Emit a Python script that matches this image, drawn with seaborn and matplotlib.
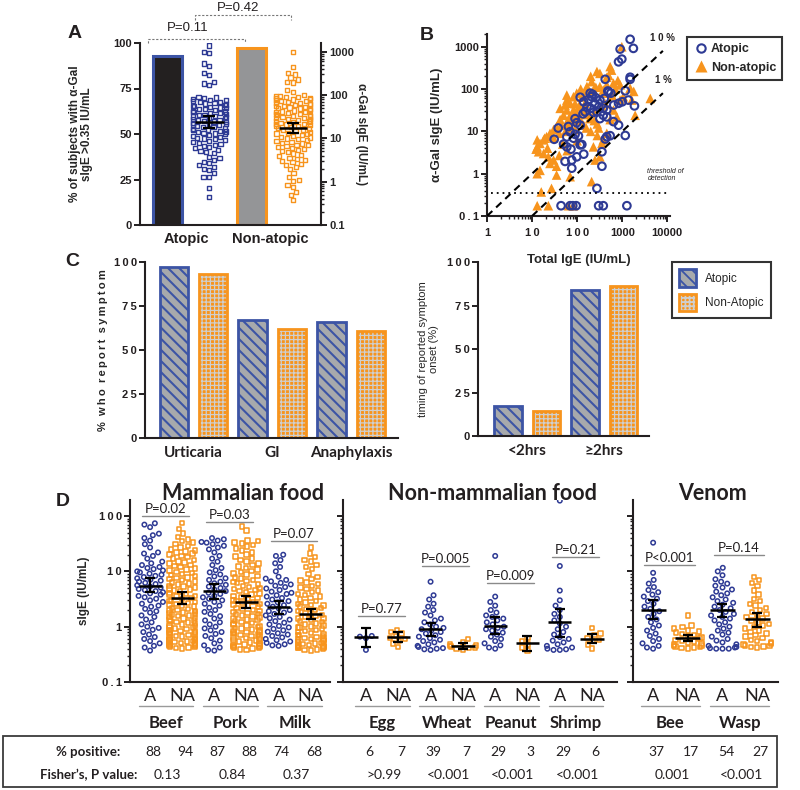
import warnings
import numpy as np
import pandas as pd
import matplotlib
matplotlib.use('Agg')
import matplotlib.pyplot as plt
import matplotlib.transforms as mtransforms
from matplotlib.patches import Rectangle, Patch
from matplotlib.lines import Line2D
from matplotlib.ticker import LogLocator, NullFormatter
import seaborn as sns

warnings.filterwarnings('ignore')

# ---------------- datos ----------------
# Panel A
groups_A = ['Atopic', 'Non-atopic']
pct_positive_A = [93, 97]
sige_atopic_A = [1400, 1000, 920, 540, 480, 320, 295, 200, 185, 170,
                 92, 88, 86, 81, 78, 76, 73, 70, 68, 66, 64, 61, 59, 57, 55, 54, 52, 50, 48, 47, 45, 43, 42, 40,
                 39, 38, 36, 35, 34, 33, 32, 31, 30, 29, 28, 27, 26, 25, 24.5, 24, 23, 22, 21.5, 21, 20, 19,
                 18.5, 18, 17, 16.5, 16, 15.5, 15, 14.5, 14, 13.4, 13, 12.4, 12, 11.5, 11, 10.4, 10, 9.6, 9.1,
                 8.7, 8.3, 7.9, 7.5, 7.1, 6.7, 6.3, 5.9, 5.5, 5.2, 4.9, 4.6, 3.8, 3.5, 3.2, 2.9, 2.65, 2.4,
                 2.2, 2.0, 1.86, 1.56, 1.3, 1.3, 0.7, 0.45]
sige_nonatopic_A = [1000, 450, 330, 300, 255, 230, 200, 195, 130, 120,
                    100, 97, 94, 91, 89, 86, 84, 81, 79, 76, 74, 72, 69, 67, 65, 63, 61, 59, 57, 56, 54, 52,
                    50, 49, 47, 46, 44, 42, 41, 40, 38, 37, 36, 35, 34, 33, 32, 31, 30, 29, 28, 27.5, 27, 26,
                    25, 24.5, 24, 23, 22, 21.5, 21, 20, 19.5, 19, 18, 17.5, 17, 16, 15.5, 15, 14, 13.5, 13,
                    12.5, 12, 11.5, 11, 10.5, 10, 9.6, 9.2, 8.8, 8.4, 8, 7.6, 7.2, 6.9, 6.6, 6.3, 6, 5.7, 5.4,
                    5.1, 4.8, 4.5, 4.2, 3.9, 3.6, 3.4, 3.2, 3, 2.8, 2.6, 2.4, 2.2, 2, 1.56, 1.3, 1.1, 1.05,
                    0.84, 0.77, 0.59, 0.5, 0.38]
gmean_A = [24, 17.4]
sem_lo_A = [17, 13]
sem_hi_A = [33, 23]
pvals_A = ['P=0.11', 'P=0.42']

# Panel B (IgE total, sIgE alfa-Gal)
total_atopic_B = [1500, 1770, 900, 980, 830, 1500, 1500, 420, 1170, 1870, 830, 1370, 117, 195, 210, 180,
                  320, 300, 380, 455, 275, 140, 165, 150, 135, 380, 455, 320, 640, 830, 1170, 455, 540, 420,
                  90, 98, 117, 38, 31, 64, 70, 90, 59, 83, 107, 50, 59, 73, 117, 127, 140, 98, 76, 54, 355,
                  355, 76, 275, 44, 70, 80, 95, 300, 380, 1270, 250, 200, 230, 500, 480, 560, 400, 650,
                  1000, 220, 260]
sige_atopic_B = [1500, 915, 880, 510, 440, 190, 170, 170, 91, 40, 46, 55, 64, 80, 66, 57,
                 55, 38, 35, 32, 29, 50, 38, 29, 26, 24, 22, 20, 17, 14, 8, 7.5, 7.9, 6.6,
                 20, 16, 14, 12, 6.5, 13, 9.8, 8.5, 7.4, 6.9, 7.8, 5, 4.3, 3.8, 4.8, 4.9, 2.9, 2.5, 2.1,
                 1.95, 3.3, 1.5, 1.35, 0.45, 0.175, 0.175, 0.175, 0.175, 0.175, 0.175, 0.175, 45, 35, 28,
                 85, 90, 80, 60, 42, 50, 75, 62]
total_nonatopic_B = [980, 275, 540, 580, 210, 320, 455, 640, 900, 1500, 1800, 1630, 1940, 4200, 150, 117,
                     83, 59, 50, 70, 98, 42, 59, 35, 30, 25, 21, 18, 15, 13, 14, 18, 23, 30, 25, 35, 15,
                     13, 35, 70, 210, 27, 16, 13, 23, 64, 83, 13, 19, 12.3, 230, 355, 380, 455, 320, 250,
                     640, 760, 540, 900, 1060, 320, 455, 380, 230, 165, 127, 98, 59, 70, 54, 42, 83, 59,
                     110, 130, 160, 190, 240, 280, 300, 200, 160, 120, 100, 80, 65, 45, 40, 55, 75, 90, 140,
                     250, 350, 420, 600, 700, 800, 500, 200, 260, 180, 150, 400, 120, 90, 30, 22, 48, 60,
                     100, 280, 40]
sige_nonatopic_B = [1000, 260, 340, 280, 150, 115, 125, 138, 125, 105, 88, 55, 24, 60, 46, 38,
                    32, 32, 24, 22, 27, 19, 15, 13, 11, 9, 7.5, 6.3, 5.2, 4.3, 3.3, 3.0, 2.5, 2.1, 1.75, 1.5,
                    1.2, 1.0, 0.93, 0.85, 0.65, 0.45, 0.37, 0.175, 0.175, 0.175, 0.175, 6.3, 6.9, 3.8, 4.3,
                    5.2, 6.3, 9, 2.5, 2.1, 32, 22, 19, 55, 66, 235, 190, 95, 95, 115, 65, 80, 55, 46, 42, 35,
                    66, 72, 40, 30, 25, 20, 18, 15, 12, 10, 12, 18, 22, 18, 20, 14, 9, 10, 12, 11, 14,
                    30, 40, 45, 70, 100, 160, 210, 200, 110, 90, 75, 80, 100, 45, 7, 4, 5, 3.5,
                    6, 8, 2.7]
ratio_lines_B = [0.1, 0.01]
ratio_labels_B = ['1 0 %', '1 %']
threshold_B = 0.35

# Panel C
symptoms_C = ['Urticaria', 'GI', 'Anaphylaxis']
symptom_atopic_C = [97, 67, 66]
symptom_nonatopic_C = [93, 62, 61]
timing_C = ['<2hrs', '≥2hrs']
timing_atopic_C = [17, 84]
timing_nonatopic_C = [14.5, 86]

# Panel D - alimentos de mamíferos
mamm_foods = ['Beef', 'Pork', 'Milk']
beef_A = [74, 70, 63, 48, 45, 40, 36, 31, 27, 22, 21, 19, 17, 15, 14, 13, 12, 11.5, 11, 10.4, 10, 9.6, 9.1,
          8.7, 8.3, 7.9, 7.5, 7.1, 6.8, 6.5, 6.2, 5.9, 5.6, 5.3, 5.1, 4.8, 4.6, 4.4, 4.2, 4.0, 3.8, 3.6,
          3.4, 3.2, 3.0, 2.8, 2.6, 2.4, 2.3, 2.1, 1.9, 1.8, 1.6, 1.5, 1.35, 1.2, 1.1, 1.0, 0.95, 0.88,
          0.8, 0.72, 0.65, 0.6, 0.55, 0.5, 0.45, 0.42, 0.37]
beef_NA = [75, 58, 48, 42, 38, 35, 33, 31, 29, 27, 25, 24, 23, 22, 21, 20, 19, 18, 17, 16, 15.2, 14.5,
           13.8, 13.1, 12.5, 11.9, 11.3, 10.8, 10.3, 9.8, 9.4, 9.0, 8.6, 8.2, 7.8, 7.5, 7.2, 6.9, 6.6,
           6.3, 6.0, 5.8, 5.5, 5.3, 5.1, 4.9, 4.7, 4.5, 4.3, 4.1, 3.9, 3.8, 3.6, 3.5, 3.3, 3.2, 3.0, 2.9,
           2.8, 2.7, 2.6, 2.5, 2.4, 2.3, 2.2, 2.1, 2.0, 1.95, 1.9, 1.85, 1.8, 1.75, 1.7, 1.65, 1.6, 1.55,
           1.5, 1.45, 1.4, 1.35, 1.3, 1.26, 1.22, 1.18, 1.14, 1.1, 1.06, 1.02, 0.99, 0.96, 0.93, 0.9,
           0.87, 0.84, 0.82, 0.8, 0.78, 0.76, 0.74, 0.72, 0.7, 0.68, 0.66, 0.64, 0.62, 0.6, 0.59, 0.58,
           0.57, 0.56, 0.55, 0.54, 0.53, 0.52, 0.51, 0.5, 0.49, 0.48, 0.47, 0.46, 0.45, 0.44, 0.43,
           0.42, 0.41, 0.4]
pork_A = [40, 38, 36, 34, 33, 31, 29, 27, 25, 22, 19, 17, 15, 13, 11.5, 10.5, 9.6, 8.8, 8.1, 7.5, 7.0,
          6.5, 6.1, 5.7, 5.3, 5.0, 4.7, 4.4, 4.1, 3.9, 3.6, 3.4, 3.2, 3.0, 2.8, 2.6, 2.4, 2.2, 2.0, 1.85,
          1.7, 1.55, 1.4, 1.3, 1.2, 1.1, 1.0, 0.93, 0.86, 0.8, 0.74, 0.68, 0.62, 0.56, 0.5, 0.46, 0.42,
          0.38, 0.37]
pork_NA = [65, 55, 36, 35, 33, 32, 30, 28, 26, 24, 22, 20, 18.5, 17, 16, 15, 14, 13, 12.2, 11.5, 10.8,
           10.2, 9.7, 9.2, 8.7, 8.2, 7.8, 7.4, 7.0, 6.7, 6.4, 6.1, 5.8, 5.5, 5.2, 5.0, 4.8, 4.6, 4.4, 4.2,
           4.0, 3.8, 3.6, 3.45, 3.3, 3.15, 3.0, 2.9, 2.8, 2.7, 2.6, 2.5, 2.4, 2.3, 2.2, 2.1, 2.0, 1.92,
           1.85, 1.78, 1.71, 1.65, 1.59, 1.53, 1.47, 1.41, 1.36, 1.31, 1.26, 1.21, 1.17, 1.13, 1.09,
           1.05, 1.01, 0.98, 0.95, 0.92, 0.89, 0.86, 0.83, 0.8, 0.78, 0.76, 0.74, 0.72, 0.7, 0.68, 0.66,
           0.64, 0.62, 0.6, 0.58, 0.56, 0.54, 0.52, 0.5, 0.49, 0.48, 0.47, 0.46, 0.45, 0.44, 0.43, 0.42,
           0.41, 0.4, 0.39, 0.38]
milk_A = [20, 19, 16, 14, 12, 10, 8, 7.4, 7, 6.6, 6.2, 5.8, 5.5, 5.2, 4.9, 4.6, 4.3, 4.1, 3.9, 3.7, 3.5,
          3.3, 3.1, 2.9, 2.75, 2.6, 2.45, 2.3, 2.15, 2.0, 1.9, 1.8, 1.7, 1.6, 1.5, 1.42, 1.34, 1.26, 1.18,
          1.1, 1.03, 0.97, 0.91, 0.86, 0.81, 0.76, 0.72, 0.68, 0.64, 0.6, 0.57, 0.54, 0.51, 0.48, 0.46,
          0.45]
milk_NA = [27, 21, 18, 16, 15, 13, 12, 11, 9, 8, 7.3, 6.8, 6.3, 5.9, 5.5, 5.1, 4.8, 4.5, 4.2, 3.9, 3.7,
           3.5, 3.3, 3.1, 2.9, 2.75, 2.6, 2.45, 2.3, 2.2, 2.1, 2.0, 1.9, 1.8, 1.72, 1.64, 1.56, 1.48, 1.41,
           1.34, 1.27, 1.21, 1.15, 1.1, 1.05, 1.0, 0.96, 0.92, 0.88, 0.84, 0.8, 0.77, 0.74, 0.71, 0.68,
           0.65, 0.63, 0.61, 0.59, 0.57, 0.55, 0.53, 0.51, 0.49, 0.47, 0.46, 0.45, 0.44, 0.43, 0.42, 0.41,
           0.4, 0.39, 0.38, 0.37, 0.96, 0.6, 0.5, 0.45, 1.4, 2.4, 0.7, 0.55, 0.42]
mamm_gmean = [5.5, 3.3, 4.4, 2.8, 2.3, 1.7]
mamm_lo = [4.2, 2.6, 3.2, 2.2, 1.7, 1.37]
mamm_hi = [7.5, 4.2, 5.8, 3.6, 2.9, 2.1]
mamm_p = ['P=0.02', 'P=0.03', 'P=0.07']
mamm_p_y = [100, 78, 35]

# Panel D - alimentos no mamíferos
nonmamm_foods = ['Egg', 'Wheat', 'Peanut', 'Shrimp']
egg_A = [0.68, 0.62, 0.66, 0.38]
egg_NA = [0.88, 0.8, 0.75, 0.68, 0.62, 0.6, 0.55, 0.5, 0.43]
wheat_A = [6.5, 3.7, 3.1, 2.6, 2.3, 2.0, 1.8, 1.6, 1.4, 1.3, 1.2, 1.1, 1.0, 0.95, 0.9, 0.85, 0.8, 0.75,
           0.7, 0.66, 0.62, 0.58, 0.55, 0.52, 0.48, 0.45, 0.43, 0.41, 0.4, 0.39, 0.38]
wheat_NA = [0.6, 0.52, 0.48, 0.46, 0.45, 0.44, 0.42, 0.41, 0.4, 0.39]
peanut_A = [19, 3.5, 2.8, 2.4, 2.0, 1.8, 1.6, 1.5, 1.4, 1.3, 1.2, 1.1, 1.0, 0.95, 0.9, 0.85, 0.78, 0.72,
            0.66, 0.6, 0.55, 0.5, 0.46, 0.42, 0.4]
peanut_NA = [0.62, 0.55, 0.48, 0.42, 0.37]
shrimp_A = [190, 12.5, 4.5, 3.0, 2.4, 2.0, 1.7, 1.5, 1.3, 1.15, 1.0, 0.9, 0.8, 0.72, 0.65, 0.6, 0.56,
            0.52, 0.48, 0.45, 0.42, 0.4, 0.39, 0.38, 0.38]
shrimp_NA = [0.95, 0.75, 0.7, 0.62, 0.58, 0.55, 0.48, 0.4]
nonmamm_gmean = [0.64, 0.65, 0.89, 0.45, 1.05, 0.50, 1.2, 0.61]
nonmamm_lo = [0.43, 0.53, 0.67, 0.40, 0.73, 0.36, 0.65, 0.50]
nonmamm_hi = [0.93, 0.80, 1.17, 0.50, 1.5, 0.67, 2.1, 0.75]
nonmamm_p = ['P=0.77', 'P=0.005', 'P=0.009', 'P=0.21']
nonmamm_p_y = [1.55, 12.5, 6.1, 18.2]

# Panel D - veneno
venom_kinds = ['Bee', 'Wasp']
bee_A = [33, 9.4, 7, 6, 5.2, 4.6, 4.2, 3.8, 3.5, 3.2, 2.9, 2.6, 2.3, 2.1, 1.9, 1.7, 1.5, 1.35, 1.2, 1.05,
         0.95, 0.85, 0.75, 0.68, 0.6, 0.55, 0.5, 0.45, 0.42, 0.4]
bee_NA = [1.6, 1.05, 0.98, 0.92, 0.86, 0.82, 0.78, 0.74, 0.7, 0.67, 0.64, 0.61, 0.58, 0.56, 0.54, 0.52,
          0.5, 0.48, 0.46, 0.45, 0.44, 0.43, 0.42, 0.41, 0.4]
wasp_A = [11.6, 10, 8.5, 7.2, 6.5, 6, 5.5, 5.1, 4.7, 4.3, 4.0, 3.7, 3.4, 3.1, 2.9, 2.7, 2.5, 2.3, 2.15,
          2.0, 1.85, 1.7, 1.6, 1.5, 1.4, 1.3, 1.2, 1.1, 1.0, 0.92, 0.85, 0.78, 0.72, 0.66, 0.6, 0.56,
          0.52, 0.48, 0.45, 0.43, 0.42, 0.41, 0.4, 0.4, 0.4]
wasp_NA = [8, 7, 6.2, 5.5, 4.5, 3.8, 3.2, 2.9, 2.6, 2.4, 2.2, 2.0, 1.85, 1.7, 1.6, 1.5, 1.4, 1.3, 1.2,
           1.12, 1.05, 0.98, 0.92, 0.86, 0.8, 0.75, 0.7, 0.66, 0.62, 0.58, 0.55, 0.52, 0.5, 0.48, 0.46,
           0.45, 0.44, 0.43, 0.42]
venom_gmean = [2.0, 0.63, 2.0, 1.37]
venom_lo = [1.35, 0.55, 1.5, 1.0]
venom_hi = [3.1, 0.72, 2.6, 1.8]
venom_p = ['P<0.001', 'P=0.14']
venom_p_y = [13, 19.7]

# Tabla inferior
pct_pos_mamm = [88, 94, 87, 88, 74, 68]
pct_pos_nonmamm = [6, 7, 39, 7, 29, 3, 29, 6]
pct_pos_venom = [37, 17, 54, 27]
fisher_mamm = ['0.13', '0.84', '0.37']
fisher_nonmamm = ['>0.99', '<0.001', '<0.001', '<0.001']
fisher_venom = ['0.001', '<0.001']

# ---------------- estilo ----------------
sns.set_theme(style='ticks')
plt.rcParams['font.family'] = ['Liberation Sans', 'DejaVu Sans']
plt.rcParams['hatch.linewidth'] = 1.3
plt.rcParams['axes.linewidth'] = 1.5

BLUE = '#2e3a94'
BLUE_EDGE = '#3c54a5'
ORANGE = '#f7941d'
GRAY = '#a7a9ac'
INK = '#231f20'
CAL = ['Lato', 'DejaVu Sans']
TS = '\u2009'

W, H = 800, 790
fig = plt.figure(figsize=(8, 7.9), dpi=100)
fig.patch.set_facecolor('white')


def add_ax(x0, y0, x1, y1):
    return fig.add_axes([x0 / W, 1 - y1 / H, (x1 - x0) / W, (y1 - y0) / H])


def fx(x):
    return x / W


def fy(y):
    return 1 - y / H


def spaced(s):
    return TS.join(list(s))


def prism(ax):
    for s in ['top', 'right']:
        ax.spines[s].set_visible(False)
    for s in ['left', 'bottom']:
        ax.spines[s].set_linewidth(1.5)
        ax.spines[s].set_color(INK)
    ax.tick_params(width=1.4, length=4, color=INK, labelsize=8, pad=2, labelcolor=INK)
    ax.tick_params(which='minor', width=1.0, length=2.5, color=INK)
    ax.set_facecolor('none')


def log_ticks(ax, ticks, labels):
    ax.set_yticks(ticks)
    ax.set_yticklabels(labels, fontweight='bold', fontsize=8)
    ax.yaxis.set_minor_locator(LogLocator(base=10, subs=np.arange(2, 10)))
    ax.yaxis.set_minor_formatter(NullFormatter())


# ---------------- Panel A ----------------
axA = add_ax(140, 43, 321, 225)
slots_A = ['Atopic bar', 'Atopic', 'Non-atopic bar', 'Non-atopic']
bar_names_A = ['Atopic bar', 'Non-atopic bar']
sns.barplot(x=bar_names_A, y=pct_positive_A, hue=bar_names_A, order=slots_A,
            palette=['#231f20', '#939598'], width=0.7, legend=False, errorbar=None, ax=axA)
for p, ec in zip(axA.patches, [BLUE_EDGE, ORANGE]):
    p.set_edgecolor(ec)
    p.set_linewidth(2.2)

axA2 = axA.twinx()
sns.swarmplot(x=['Atopic'] * len(sige_atopic_A), y=sige_atopic_A, order=slots_A, log_scale=True,
              marker='s', size=3.0, color=BLUE, facecolor='none', edgecolor=BLUE, linewidth=1.0, ax=axA2)
sns.swarmplot(x=['Non-atopic'] * len(sige_nonatopic_A), y=sige_nonatopic_A, order=slots_A, log_scale=True,
              marker='s', size=3.0, color=ORANGE, facecolor='none', edgecolor=ORANGE, linewidth=1.0, ax=axA2)
posA = np.array([1, 3])
gA = np.array(gmean_A)
axA2.errorbar(posA, gA, yerr=[gA - np.array(sem_lo_A), np.array(sem_hi_A) - gA], fmt='none',
              ecolor='black', elinewidth=1.6, capsize=4, capthick=1.6, zorder=6)
axA2.hlines(gA, posA - 0.34, posA + 0.34, color='black', lw=1.8, zorder=6)

prism(axA)
axA.set_ylim(0, 100)
axA.set_yticks([0, 25, 50, 75, 100])
axA.set_yticklabels(['0', '25', '50', '75', '100'], fontweight='bold', fontsize=8)
axA.set_ylabel('% of subjects with α-Gal\nsIgE >0.35 IU/mL', fontweight='bold', fontsize=8.5,
               linespacing=1.0)
axA.yaxis.set_label_coords(-0.26, 0.5)

for s in ['top', 'left', 'bottom']:
    axA2.spines[s].set_visible(False)
axA2.spines['right'].set_linewidth(1.5)
axA2.spines['right'].set_color(INK)
axA2.set_ylim(0.1, 1600)
log_ticks(axA2, [0.1, 1, 10, 100, 1000], ['0.1', '1', '10', '100', '1000'])
axA2.tick_params(axis='y', width=1.4, length=4, color=INK, pad=2)
axA2.tick_params(axis='y', which='minor', width=1.0, length=2.5, color=INK)
axA2.set_ylabel('α-Gal sIgE (IU/mL)', fontweight='bold', fontsize=8.5, rotation=270)
axA2.yaxis.set_label_coords(1.255, 0.5)

axA.set_xlim(-0.66, 3.67)
axA.set_xticks([0.45, 2.45])
axA.set_xticklabels(groups_A, fontweight='bold', fontsize=10.5)
axA.tick_params(axis='x', length=0, pad=5)
axA.set_xlabel('')
axA2.set_xlabel('')

brk = dict(color='#777777', lw=0.8, ls=(0, (2, 1.5)), clip_on=False)
axA.plot([-0.47, -0.47, 1.85, 1.85], [100, 102.3, 102.3, 100.3], **brk)
axA.plot([0.66, 0.66, 2.95, 2.95], [112.4, 115.4, 115.4, 112.6], **brk)
axA.text(0.49, 108.3, pvals_A[0], ha='center', va='center', fontsize=9.5, color=INK)
axA.text(1.69, 119.4, pvals_A[1], ha='center', va='center', fontsize=9.5, color=INK)

# ---------------- Panel B ----------------
axB = add_ax(487, 34, 670, 216)
axB.set_xscale('log')
axB.set_yscale('log')
sns.scatterplot(x=total_nonatopic_B, y=sige_nonatopic_B, marker='^', s=48, color=ORANGE,
                edgecolor='none', ax=axB, zorder=3)
sns.scatterplot(x=total_atopic_B, y=sige_atopic_B, marker='o', s=30, color=BLUE, facecolor='none',
                edgecolor=BLUE, linewidth=1.5, ax=axB, zorder=4)
for r, lab in zip(ratio_lines_B, ratio_labels_B):
    xs = np.array([0.1 / r, 8000])
    axB.plot(xs, xs * r, color='black', lw=1.5, ls=(0, (3.5, 2.5)), zorder=5)
    axB.text(8000, 8000 * r * 1.55, lab, ha='center', va='bottom', fontsize=7, fontweight='bold',
             color=INK)
axB.plot([1.25, 10000], [threshold_B, threshold_B], color='black', lw=1.3, ls=(0, (1, 2.2)), zorder=5)
axB.text(3600, 0.62, 'threshold of\ndetection', fontsize=5, style='italic', ha='left', va='bottom',
         linespacing=1.1, color=INK)
prism(axB)
axB.set_xlim(1, 11500)
axB.set_ylim(0.1, 2000)
axB.set_xticks([1, 10, 100, 1000, 10000])
axB.set_xticklabels(['1', spaced('10'), spaced('100'), '1000', '10000'], fontweight='bold', fontsize=8)
axB.xaxis.set_minor_locator(LogLocator(base=10, subs=np.arange(2, 10)))
axB.xaxis.set_minor_formatter(NullFormatter())
log_ticks(axB, [0.1, 1, 10, 100, 1000], [spaced('0.1'), '1', '10', '100', '1000'])
axB.tick_params(axis='x', pad=5)
axB.set_xlabel('Total IgE (IU/mL)', fontweight='bold', fontsize=9.5, labelpad=11)
axB.set_ylabel('α-Gal sIgE (IU/mL)', fontweight='bold', fontsize=9.5)
axB.yaxis.set_label_coords(-0.24, 0.5)
hB = [Line2D([], [], marker='o', ls='none', mfc='none', mec=BLUE, mew=1.5, ms=6),
      Line2D([], [], marker='^', ls='none', mfc=ORANGE, mec='none', ms=8)]
legB = axB.legend(hB, ['Atopic', 'Non-atopic'], loc='upper left',
                  bbox_to_anchor=(fx(687), fy(37)), bbox_transform=fig.transFigure,
                  frameon=True, fancybox=False, prop={'weight': 'bold', 'size': 9},
                  handletextpad=0.2, borderpad=0.5, labelspacing=0.5, handlelength=1.2,
                  borderaxespad=0)
legB.get_frame().set_edgecolor('black')
legB.get_frame().set_linewidth(1.5)

# ---------------- Panel C ----------------
STRIPE = '\\\\\\'
CHECK = '++++'


def hatch_bars(ax, bars, face, hatch, hatch_color, edge, hlw):
    for p in bars:
        p.set_facecolor(face)
        p.set_hatch(hatch)
        p.set_edgecolor(hatch_color)
        p.set_linewidth(0)
        if hasattr(p, 'set_hatch_linewidth'):
            p.set_hatch_linewidth(hlw)
        ax.add_patch(Rectangle(p.get_xy(), p.get_width(), p.get_height(), fill=False,
                               edgecolor=edge, lw=2.0, zorder=p.get_zorder() + 0.1))


def symptom_bars(ax, cats, atopic, nonatopic):
    df = pd.DataFrame({'cat': cats * 2,
                       'group': ['Atopic'] * len(cats) + ['Non-Atopic'] * len(cats),
                       'pct': atopic + nonatopic})
    sns.barplot(data=df, x='cat', y='pct', hue='group', order=cats, width=1.0, gap=0.28,
                palette=[GRAY, ORANGE], legend=False, errorbar=None, ax=ax)
    hatch_bars(ax, ax.containers[0], GRAY, STRIPE, BLUE_EDGE, BLUE_EDGE, 1.5)
    hatch_bars(ax, ax.containers[1], ORANGE, CHECK, '#cfcfcf', ORANGE, 0.9)
    prism(ax)
    ax.set_ylim(0, 100)
    ax.set_yticks([0, 25, 50, 75, 100])
    ax.set_yticklabels(['0', spaced('25'), spaced('50'), spaced('75'), spaced('100')],
                       fontweight='bold', fontsize=8)
    ax.tick_params(axis='x', length=0, pad=6)
    ax.set_xlabel('')


axC1 = add_ax(145, 262, 398, 438)
symptom_bars(axC1, symptoms_C, symptom_atopic_C, symptom_nonatopic_C)
axC1.set_xlim(-0.615, 2.595)
axC1.set_xticklabels(symptoms_C, fontsize=11, fontweight='bold', family=CAL)
axC1.set_ylabel(spaced('% who report symptom').replace(TS + ' ' + TS, '  '), fontweight='bold',
                fontsize=8)
axC1.yaxis.set_label_coords(-0.146, 0.5)

axC2 = add_ax(478, 262, 649, 436)
symptom_bars(axC2, timing_C, timing_atopic_C, timing_nonatopic_C)
axC2.set_xlim(-0.64, 1.58)
axC2.set_xticklabels(timing_C, fontsize=11, fontweight='bold', family=CAL)
axC2.set_ylabel('timing of reported symptom\nonset (%)', fontsize=8, linespacing=1.05)
axC2.yaxis.set_label_coords(-0.23, 0.5)

hC = [(Patch(facecolor=GRAY, hatch=STRIPE, edgecolor=BLUE_EDGE, lw=0),
       Patch(fill=False, edgecolor=BLUE_EDGE, lw=2)),
      (Patch(facecolor=ORANGE, hatch=CHECK, edgecolor='#cfcfcf', lw=0),
       Patch(fill=False, edgecolor=ORANGE, lw=2))]
legC = axC2.legend(hC, ['Atopic', 'Non-Atopic'], loc='upper left',
                   bbox_to_anchor=(fx(672), fy(262)), bbox_transform=fig.transFigure,
                   frameon=True, fancybox=False, prop={'size': 8.5}, handlelength=1.4,
                   handleheight=1.9, handletextpad=0.8, borderpad=0.6, labelspacing=0.6,
                   borderaxespad=0)
legC.get_frame().set_edgecolor('black')
legC.get_frame().set_linewidth(1.5)

# ---------------- Panel D ----------------


def panel_d(ax, foods, atopic_vals, na_vals, gmean, lo, hi, pvals, p_y, xlim, show_labels):
    order = []
    for f in foods:
        order += [f + ' A', f + ' NA']
    da = pd.DataFrame({'col': [f + ' A' for f, v in zip(foods, atopic_vals) for _ in v],
                       'val': [x for v in atopic_vals for x in v]})
    dn = pd.DataFrame({'col': [f + ' NA' for f, v in zip(foods, na_vals) for _ in v],
                       'val': [x for v in na_vals for x in v]})
    sns.swarmplot(data=da, x='col', y='val', order=order, log_scale=True, marker='o', size=3.2,
                  color=BLUE, facecolor='none', edgecolor=BLUE, linewidth=1.1, ax=ax)
    sns.swarmplot(data=dn, x='col', y='val', order=order, log_scale=True, marker='s', size=3.2,
                  color=ORANGE, facecolor='none', edgecolor=ORANGE, linewidth=1.1, ax=ax)
    pos = np.arange(len(order))
    g = np.array(gmean)
    ax.errorbar(pos, g, yerr=[g - np.array(lo), np.array(hi) - g], fmt='none', ecolor='black',
                elinewidth=1.6, capsize=3.5, capthick=1.6, zorder=6)
    ax.hlines(g, pos - 0.36, pos + 0.36, color='black', lw=1.8, zorder=6)
    for i, (p, y) in enumerate(zip(pvals, p_y)):
        x0, x1 = 2 * i - 0.25, 2 * i + 1.2
        ax.plot([x0, x1], [y, y], color='#8a8a8a', lw=1.0, zorder=6)
        ax.text((x0 + x1) / 2, y * 1.04, p, ha='center', va='bottom', fontsize=9.5, family=CAL,
                color=INK)
    prism(ax)
    ax.set_ylim(0.1, 195)
    ax.set_xlim(*xlim)
    log_ticks(ax, [0.1, 1, 10, 100], [spaced('0.1'), '1', spaced('10'), spaced('100')])
    if not show_labels:
        ax.set_yticklabels([])
    ax.set_xticks(pos)
    ax.set_xticklabels(['A', 'NA'] * len(foods), fontsize=13, family=CAL, color=INK)
    ax.tick_params(axis='x', length=0, pad=4)
    ax.set_xlabel('')
    ax.set_ylabel('')
    tr = mtransforms.blended_transform_factory(ax.transData, ax.transAxes)
    for i, f in enumerate(foods):
        ax.plot([2 * i - 0.35, 2 * i + 1.35], [-0.13, -0.13], color='#9a9a9a', lw=1.0,
                transform=tr, clip_on=False)
        ax.text(2 * i + 0.5, -0.225, f, transform=tr, ha='center', va='center', fontsize=12,
                fontweight='bold', family=CAL, color=INK)
    return pos


axD1 = add_ax(130, 500, 330, 682)
posD1 = panel_d(axD1, mamm_foods, [beef_A, pork_A, milk_A], [beef_NA, pork_NA, milk_NA],
                mamm_gmean, mamm_lo, mamm_hi, mamm_p, mamm_p_y, (-0.625, 5.6), True)
axD1.set_ylabel('sIgE (IU/mL)', fontweight='bold', fontsize=8.5)
axD1.yaxis.set_label_coords(-0.2, 0.5)

axD2 = add_ax(343, 500, 617, 682)
posD2 = panel_d(axD2, nonmamm_foods, [egg_A, wheat_A, peanut_A, shrimp_A],
                [egg_NA, wheat_NA, peanut_NA, shrimp_NA], nonmamm_gmean, nonmamm_lo, nonmamm_hi,
                nonmamm_p, nonmamm_p_y, (-0.71, 7.77), False)

axD3 = add_ax(633, 500, 778, 682)
posD3 = panel_d(axD3, venom_kinds, [bee_A, wasp_A], [bee_NA, wasp_NA], venom_gmean, venom_lo,
                venom_hi, venom_p, venom_p_y, (-0.58, 3.6), False)

for x, t in [(243, 'Mammalian food'), (492, 'Non-mammalian food'), (712, 'Venom')]:
    fig.text(fx(x), fy(494), t, ha='center', va='center', fontsize=15.5, fontweight='bold',
             family=CAL, color=INK)

# ---------------- Tabla ----------------
fig.patches.append(Rectangle((fx(3), fy(787)), fx(774), 51 / H, transform=fig.transFigure,
                             fill=False, edgecolor='#3a3a3a', lw=1.3))
fig.text(fx(120), fy(752), '% positive:', ha='right', va='center', fontsize=9.5, fontweight='bold',
         family=CAL, color=INK)
fig.text(fx(137), fy(775), 'Fisher’s, P value:', ha='right', va='center', fontsize=9.5,
         fontweight='bold', family=CAL, color=INK)
for ax, pos, pcts, fish in [(axD1, posD1, pct_pos_mamm, fisher_mamm),
                            (axD2, posD2, pct_pos_nonmamm, fisher_nonmamm),
                            (axD3, posD3, pct_pos_venom, fisher_venom)]:
    tr = mtransforms.blended_transform_factory(ax.transData, fig.transFigure)
    for x, v in zip(pos, pcts):
        ax.text(x + 0.1, fy(752), str(v), transform=tr, ha='center', va='center', fontsize=10,
                family=CAL, color=INK)
    for i, v in enumerate(fish):
        ax.text(2 * i + 0.55, fy(775), v, transform=tr, ha='center', va='center', fontsize=10,
                family=CAL, color=INK)

# Etiquetas de panel
for x, y, t in [(75, 34, 'A'), (427, 35, 'B'), (72, 261, 'C'), (63, 502, 'D')]:
    fig.text(fx(x), fy(y), t, ha='center', va='center', fontsize=14, fontweight='bold', color=INK)

fig.savefig('out.png', dpi=100, facecolor='white')
